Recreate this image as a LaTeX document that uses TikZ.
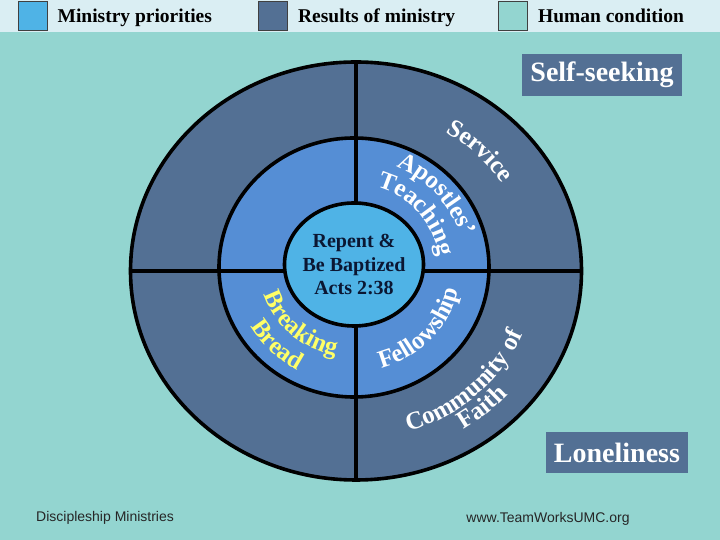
\documentclass[tikz,border=0pt]{standalone}
\usepackage{fontspec}
\setmainfont{Liberation Serif}
\newfontfamily\footfont{Liberation Sans}
\usetikzlibrary{shapes.geometric,positioning,decorations.text}

\definecolor{bgteal}{HTML}{93D5D0}
\definecolor{topbar}{HTML}{DAEEF3}
\definecolor{results}{HTML}{537094}
\definecolor{middle}{HTML}{558ED5}
\definecolor{prio}{HTML}{4FB3E6}
\definecolor{breadyellow}{HTML}{FFFF66}
\definecolor{coretext}{HTML}{0B1733}

\newcommand\ringfont{\fontsize{25}{25}\selectfont\bfseries}

\begin{document}
\begin{tikzpicture}[x=1pt, y=1pt,
  ring/.style={ellipse, draw=black, line width=3.6pt, inner sep=0pt},
  divider/.style={line width=3.6pt},
  keybox/.style={draw=black!75, line width=0.8pt, minimum size=29pt, inner sep=0pt},
  keytext/.style={inner sep=0pt, text height=13pt, text depth=4pt, yshift=-2.5pt,
    font=\fontsize{19.5}{19.5}\selectfont\bfseries},
  tag/.style={fill=results, text=white, inner sep=0pt, font=\fontsize{28}{28}\selectfont\bfseries},
  footer/.style={inner sep=0pt, text=black!85, font=\footfont\fontsize{14}{14}\selectfont},
  ringtext/.style 2 args={decorate, decoration={text along path, text align=center,
    text color=#1, text={|\ringfont|#2}}}]
\useasboundingbox (0,0) rectangle (720,540);
\fill[bgteal] (0,0) rectangle (720,540);
\fill[topbar] (0,508) rectangle (720,540);

% legend
\node[keybox, fill=prio] (keyprio) at (32.5,524) {};
\node[keytext, right=10pt of keyprio] (labprio) {Ministry priorities};
\node[keybox, fill=results] (keyres) at (273,524) {};
\node[keytext, right=10pt of keyres] (labres) {Results of ministry};
\node[keybox, fill=bgteal] (keyhum) at (513,524) {};
\node[keytext, right=10pt of keyhum] (labhum) {Human condition};

% rings
\node[ring, fill=results, minimum width=451pt, minimum height=418pt] (outer) at (356,269) {};
\node[ring, fill=middle, minimum width=270pt, minimum height=259pt] (middle) at (354,272.5) {};
\draw[divider] (outer.north) -- (outer.south);
\draw[divider] (outer.west) -- (outer.east);
\node[ring, fill=prio, minimum width=139pt, minimum height=123pt] (core) at (354,275.5) {};
\node[align=center, text=coretext, font=\fontsize{20}{23.5}\selectfont\bfseries] (corelab) at (core.center) {Repent \&\\Be Baptized\\Acts 2:38};

% texts along the rings
\path[ringtext={white}{Service}, shift={(355,269)}]
  (85:175 and 162) arc[start angle=85, end angle=5, x radius=175, y radius=162];
\path[ringtext={white}{Community of}, shift={(355,269)}]
  (-87:181 and 168) arc[start angle=-87, end angle=-7, x radius=181, y radius=168];
\path[ringtext={white}{Faith}, shift={(355,269)}]
  (-88.5:203 and 188) arc[start angle=-88.5, end angle=-8.5, x radius=203, y radius=188];
\path[ringtext={white}{Apostles’}, shift={(353,272)}]
  (82:113 and 109) arc[start angle=82, end angle=2, x radius=113, y radius=109];
\path[ringtext={white}{Teaching}, shift={(353,272)}]
  (81:87 and 84) arc[start angle=81, end angle=1, x radius=87, y radius=84];
\path[ringtext={white}{Fellowship}, shift={(353,272)}]
  (-83.5:108 and 104) arc[start angle=-83.5, end angle=-3.5, x radius=108, y radius=104];
\path[ringtext={breadyellow}{Breaking}, shift={(353,272)}]
  (188:93 and 89) arc[start angle=188, end angle=268, x radius=93, y radius=89];
\path[ringtext={breadyellow}{Bread}, shift={(353,272)}]
  (186:119 and 115) arc[start angle=186, end angle=266, x radius=119, y radius=115];

% human condition tags
\node[tag, minimum width=160pt, minimum height=42pt] (selfseek) at (602,465) {Self-seeking};
\node[tag, minimum width=142pt, minimum height=41pt] (lonely) at (617,87.5) {Loneliness};

% footer
\node[footer, anchor=west] (dm) at (36,22) {Discipleship Ministries};
\node[footer] (web) at (548,21) {www.TeamWorksUMC.org};
\end{tikzpicture}
\end{document}
